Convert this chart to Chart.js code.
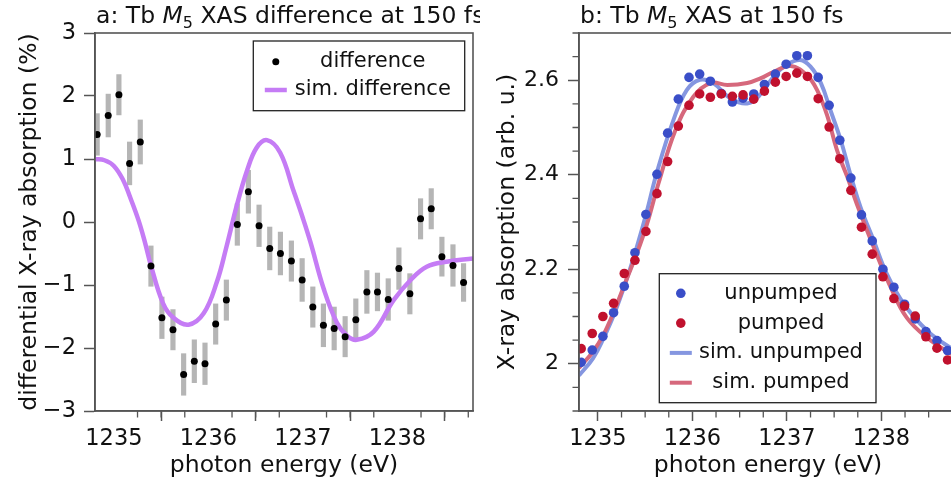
<!DOCTYPE html>
<html>
<head>
<meta charset="utf-8">
<script src="https://cdn.jsdelivr.net/npm/chart.js@4"></script>
<style>
  html, body { margin: 0; padding: 0; overflow: hidden; background: #fff; }
  #left { position: absolute; left: 0; top: 0; }
  #right { position: absolute; left: 480px; top: 0; }
</style>
</head>
<body>
<canvas id="left" width="480" height="491"></canvas>
<canvas id="right" width="490" height="491"></canvas>
<script>
// photon energies of the measured points (eV), shared by both panels
const energies = [1234.823, 1234.940, 1235.053, 1235.166, 1235.279, 1235.392, 1235.508, 1235.625, 1235.738,
  1235.851, 1235.964, 1236.077, 1236.190, 1236.306, 1236.423, 1236.536, 1236.649, 1236.762, 1236.878,
  1236.992, 1237.105, 1237.217, 1237.331, 1237.447, 1237.560, 1237.677, 1237.789, 1237.903, 1238.016,
  1238.132, 1238.245, 1238.358, 1238.471, 1238.588, 1238.700];

// panel a: measured difference (%) and its error
const diffValues = [1.39, 1.69, 2.02, 0.93, 1.27, -0.70, -1.52, -1.71, -2.42, -2.21, -2.25, -1.62, -1.24,
  -0.04, 0.48, -0.06, -0.42, -0.50, -0.62, -0.92, -1.35, -1.64, -1.69, -1.82, -1.55, -1.11, -1.11, -1.23,
  -0.74, -1.14, 0.05, 0.21, -0.55, -0.69, -0.96];
const diffErrors = [0.33, 0.34, 0.32, 0.34, 0.35, 0.32, 0.33, 0.32, 0.33, 0.34, 0.33, 0.32, 0.32, 0.33, 0.34,
  0.33, 0.34, 0.34, 0.32, 0.34, 0.32, 0.34, 0.34, 0.32, 0.33, 0.34, 0.30, 0.33, 0.33, 0.32, 0.32, 0.32,
  0.31, 0.33, 0.30];

// panel a: simulated difference
const simDiffE = [1234.80, 1234.90, 1235.00, 1235.10, 1235.17, 1235.26, 1235.33, 1235.39, 1235.52, 1235.63,
  1235.79, 1235.95, 1236.09, 1236.19, 1236.30, 1236.41, 1236.51, 1236.62, 1236.76, 1236.90, 1237.00,
  1237.08, 1237.22, 1237.36, 1237.47, 1237.57, 1237.75, 1237.96, 1238.14, 1238.31, 1238.52, 1238.80];
const simDiffY = [1.00, 0.98, 0.89, 0.66, 0.40, 0.03, -0.33, -0.68, -1.29, -1.52, -1.63, -1.45, -0.95, -0.40,
  0.26, 0.82, 1.18, 1.30, 1.10, 0.50, 0.06, -0.32, -1.06, -1.60, -1.81, -1.87, -1.74, -1.24, -0.92,
  -0.71, -0.63, -0.58];

// panel b: measured XAS
const unpumped = [2.003, 2.029, 2.058, 2.108, 2.164, 2.235, 2.316, 2.401, 2.488, 2.560, 2.606, 2.613, 2.598,
  2.572, 2.554, 2.562, 2.571, 2.591, 2.613, 2.634, 2.652, 2.652, 2.606, 2.547, 2.473, 2.393, 2.315, 2.260,
  2.200, 2.162, 2.126, 2.095, 2.068, 2.049, 2.028];
const pumped = [2.032, 2.064, 2.100, 2.128, 2.191, 2.219, 2.280, 2.360, 2.428, 2.503, 2.547, 2.571, 2.564,
  2.571, 2.566, 2.569, 2.560, 2.577, 2.596, 2.608, 2.615, 2.608, 2.561, 2.501, 2.434, 2.367, 2.289, 2.232,
  2.184, 2.138, 2.122, 2.101, 2.057, 2.033, 2.008];

// panel b: simulated XAS
const simUnpE = [1234.80, 1234.95, 1235.06, 1235.17, 1235.31, 1235.41, 1235.52, 1235.62, 1235.80, 1235.94,
  1236.08, 1236.22, 1236.40, 1236.58, 1236.72, 1236.86, 1237.00, 1237.14, 1237.25, 1237.36, 1237.46,
  1237.57, 1237.67, 1237.78, 1237.92, 1238.06, 1238.24, 1238.49, 1238.73, 1238.80];
const simUnpY = [1.975, 2.012, 2.054, 2.104, 2.182, 2.246, 2.324, 2.402, 2.516, 2.579, 2.601, 2.594, 2.562,
  2.551, 2.570, 2.608, 2.633, 2.643, 2.629, 2.594, 2.537, 2.473, 2.402, 2.331, 2.260, 2.189, 2.126,
  2.069, 2.034, 2.028];
const simPumpE = [1234.80, 1234.95, 1235.06, 1235.17, 1235.31, 1235.41, 1235.52, 1235.64, 1235.82, 1236.01,
  1236.19, 1236.37, 1236.58, 1236.72, 1236.86, 1237.04, 1237.21, 1237.32, 1237.43, 1237.53, 1237.64,
  1237.74, 1237.92, 1238.10, 1238.27, 1238.49, 1238.73, 1238.80];
const simPumpY = [1.991, 2.026, 2.062, 2.111, 2.182, 2.232, 2.296, 2.381, 2.494, 2.565, 2.594, 2.590, 2.594,
  2.604, 2.618, 2.630, 2.611, 2.579, 2.523, 2.452, 2.395, 2.338, 2.246, 2.161, 2.097, 2.054, 2.022, 2.015];

// ticks
const xMajor = [1235, 1236, 1237, 1238];
const xMinor = [1235.25, 1235.5, 1235.75, 1236.25, 1236.5, 1236.75, 1237.25, 1237.5, 1237.75, 1238.25, 1238.5, 1238.75];
const yMajorA = [-3, -2, -1, 0, 1, 2, 3];
const yMajorB = [2.0, 2.2, 2.4, 2.6];
const yMinorB = [1.9, 1.95, 2.05, 2.1, 2.15, 2.25, 2.3, 2.35, 2.45, 2.5, 2.55, 2.65, 2.7];

const FONT = "'DejaVu Sans', sans-serif";
const AXIS = '#555';
Chart.defaults.font.family = FONT;
Chart.defaults.color = '#111';

function pts(xs, ys) {
  return xs.map((x, i) => ({ x: x, y: ys[i] }));
}

// box around the plot + minor ticks
const frame = {
  id: 'frame',
  afterDraw(chart, args, opts) {
    const ctx = chart.ctx, ca = chart.chartArea;
    ctx.save();
    ctx.strokeStyle = AXIS;
    ctx.lineWidth = 1.6;
    ctx.strokeRect(ca.left, ca.top, ca.right - ca.left, ca.bottom - ca.top);
    ctx.lineWidth = 1.3;
    ctx.beginPath();
    (opts.xMinor || []).forEach(v => {
      const px = chart.scales.x.getPixelForValue(v);
      ctx.moveTo(px, ca.bottom);
      ctx.lineTo(px, ca.bottom + 6.5);
    });
    (opts.yMinor || []).forEach(v => {
      const py = chart.scales.y.getPixelForValue(v);
      ctx.moveTo(ca.left, py);
      ctx.lineTo(ca.left - 6.5, py);
    });
    ctx.stroke();
    ctx.restore();
  }
};

// panel title with italic M and subscript 5
const panelTitle = {
  id: 'panelTitle',
  afterDraw(chart, args, opts) {
    const ctx = chart.ctx;
    let x = chart.chartArea.left + 1;
    const y = 23;
    const parts = [
      [opts.pre, '', 0, 23.5],
      ['M', 'italic ', 0, 23.5],
      ['5', '', 5, 16],
      [opts.post, '', 0, 23.5]
    ];
    ctx.save();
    ctx.fillStyle = '#111';
    ctx.textAlign = 'left';
    ctx.textBaseline = 'alphabetic';
    parts.forEach(p => {
      ctx.font = p[1] + p[3] + 'px ' + FONT;
      ctx.fillText(p[0], x, y + p[2]);
      x += ctx.measureText(p[0]).width;
    });
    ctx.restore();
  }
};

// framed legend with centred labels
const boxLegend = {
  id: 'boxLegend',
  afterDraw(chart, args, opts) {
    const ctx = chart.ctx, b = opts.box;
    ctx.save();
    ctx.fillStyle = '#fff';
    ctx.fillRect(b.x, b.y, b.w, b.h);
    ctx.strokeStyle = '#222';
    ctx.lineWidth = 1.3;
    ctx.strokeRect(b.x, b.y, b.w, b.h);
    opts.items.forEach((it, i) => {
      const ds = chart.data.datasets[it.ds];
      const y = b.y + opts.first + i * opts.gap;
      if (it.kind === 'dot') {
        ctx.beginPath();
        ctx.arc(opts.markerX, y, ds.pointRadius, 0, Math.PI * 2);
        ctx.fillStyle = ds.backgroundColor;
        ctx.fill();
      } else {
        ctx.beginPath();
        ctx.moveTo(opts.markerX - 11, y);
        ctx.lineTo(opts.markerX + 11, y);
        ctx.strokeStyle = ds.borderColor;
        ctx.lineWidth = ds.borderWidth;
        ctx.stroke();
      }
      ctx.fillStyle = '#111';
      ctx.font = '21px ' + FONT;
      ctx.textAlign = 'center';
      ctx.textBaseline = 'middle';
      ctx.fillText(ds.label, opts.textX, y);
    });
    ctx.restore();
  }
};

function xScale() {
  return {
    type: 'linear', min: 1234.8, max: 1238.8, offset: false,
    afterBuildTicks: s => { s.ticks = xMajor.map(v => ({ value: v })); },
    afterFit: s => { s.height = 80; },
    ticks: { font: { size: 22.5 }, color: '#111', padding: 5, maxRotation: 0, autoSkip: false,
      callback: v => String(v) },
    grid: { drawOnChartArea: false, drawTicks: true, tickLength: 10, tickColor: AXIS, tickWidth: 1.5 },
    border: { color: AXIS, width: 1.6 },
    title: { display: true, text: 'photon energy (eV)', font: { size: 23.5 }, color: '#111',
      padding: { top: 0, bottom: 11 } }
  };
}

new Chart(document.getElementById('left'), {
  type: 'scatter',
  data: {
    datasets: [
      { type: 'scatter', label: 'difference', data: pts(energies, diffValues),
        pointRadius: 3.5, backgroundColor: '#000', borderWidth: 0, order: 0 },
      { type: 'line', label: 'sim. difference', data: pts(simDiffE, simDiffY),
        borderColor: '#c57cf5', borderWidth: 4.5, pointRadius: 0, fill: false,
        tension: 0.4, order: 1 },
      { type: 'bar', label: 'error', grouped: false, barThickness: 4.5, backgroundColor: '#b5b5b5',
        data: energies.map((e, i) => ({ x: e, y: [diffValues[i] - diffErrors[i], diffValues[i] + diffErrors[i]] })),
        order: 2 }
    ]
  },
  options: {
    responsive: false,
    animation: false,
    layout: { padding: { left: 0, top: 33, right: 7, bottom: 0 } },
    plugins: {
      legend: { display: false },
      tooltip: { enabled: false },
      frame: { xMinor: xMinor },
      panelTitle: { pre: 'a: Tb ', post: ' XAS difference at 150 fs' },
      boxLegend: {
        box: { x: 253.3, y: 41, w: 211.4, h: 69.7 }, first: 20.7, gap: 28.3, markerX: 275.8, textX: 372.8,
        items: [{ ds: 0, kind: 'dot' }, { ds: 1, kind: 'line' }]
      }
    },
    scales: {
      x: xScale(),
      y: {
        type: 'linear', min: -3, max: 3,
        afterBuildTicks: s => { s.ticks = yMajorA.map(v => ({ value: v })); },
        afterFit: s => { s.width = 95; },
        ticks: { font: { size: 22.5 }, color: '#111', padding: 8,
          callback: v => (v < 0 ? '\u2212' + Math.abs(v) : String(v)) },
        grid: { drawOnChartArea: false, drawTicks: true, tickLength: 11, tickColor: AXIS, tickWidth: 1.5 },
        border: { color: AXIS, width: 1.6 },
        title: { display: true, text: 'differential X-ray absorption (%)', font: { size: 23.5 }, color: '#111',
          padding: { top: 16, bottom: 0 } }
      }
    }
  },
  plugins: [frame, panelTitle, boxLegend]
});

new Chart(document.getElementById('right'), {
  type: 'scatter',
  data: {
    datasets: [
      { type: 'scatter', label: 'unpumped', data: pts(energies, unpumped),
        pointRadius: 4.8, backgroundColor: '#3a4ec8', borderWidth: 0, order: 1 },
      { type: 'scatter', label: 'pumped', data: pts(energies, pumped),
        pointRadius: 4.8, backgroundColor: '#c0112e', borderWidth: 0, order: 0 },
      { type: 'line', label: 'sim. unpumped', data: pts(simUnpE, simUnpY),
        borderColor: '#8596e0', borderWidth: 4, pointRadius: 0, fill: false,
        tension: 0.4, order: 3 },
      { type: 'line', label: 'sim. pumped', data: pts(simPumpE, simPumpY),
        borderColor: '#d6687c', borderWidth: 4, pointRadius: 0, fill: false,
        tension: 0.4, order: 2 }
    ]
  },
  options: {
    responsive: false,
    animation: false,
    layout: { padding: { left: 0, top: 33, right: 13, bottom: 0 } },
    plugins: {
      legend: { display: false },
      tooltip: { enabled: false },
      frame: { xMinor: xMinor, yMinor: yMinorB },
      panelTitle: { pre: 'b: Tb ', post: ' XAS at 150 fs' },
      boxLegend: {
        box: { x: 179.3, y: 273.7, w: 216.7, h: 129 }, first: 19.6, gap: 29.8, markerX: 200.8, textX: 301,
        items: [{ ds: 0, kind: 'dot' }, { ds: 1, kind: 'dot' }, { ds: 2, kind: 'line' }, { ds: 3, kind: 'line' }]
      }
    },
    scales: {
      x: xScale(),
      y: {
        type: 'linear', min: 1.9, max: 2.7,
        afterBuildTicks: s => { s.ticks = yMajorB.map(v => ({ value: v })); },
        afterFit: s => { s.width = 99; },
        ticks: { font: { size: 22 }, color: '#111', padding: 9,
          callback: v => (Math.abs(v - 2) < 1e-9 ? '2' : v.toFixed(1)) },
        grid: { drawOnChartArea: false, drawTicks: true, tickLength: 11, tickColor: AXIS, tickWidth: 1.5 },
        border: { color: AXIS, width: 1.6 },
        title: { display: true, text: 'X-ray absorption (arb. u.)', font: { size: 23.5 }, color: '#111',
          padding: { top: 14, bottom: 0 } }
      }
    }
  },
  plugins: [frame, panelTitle, boxLegend]
});
</script>
</body>
</html>
